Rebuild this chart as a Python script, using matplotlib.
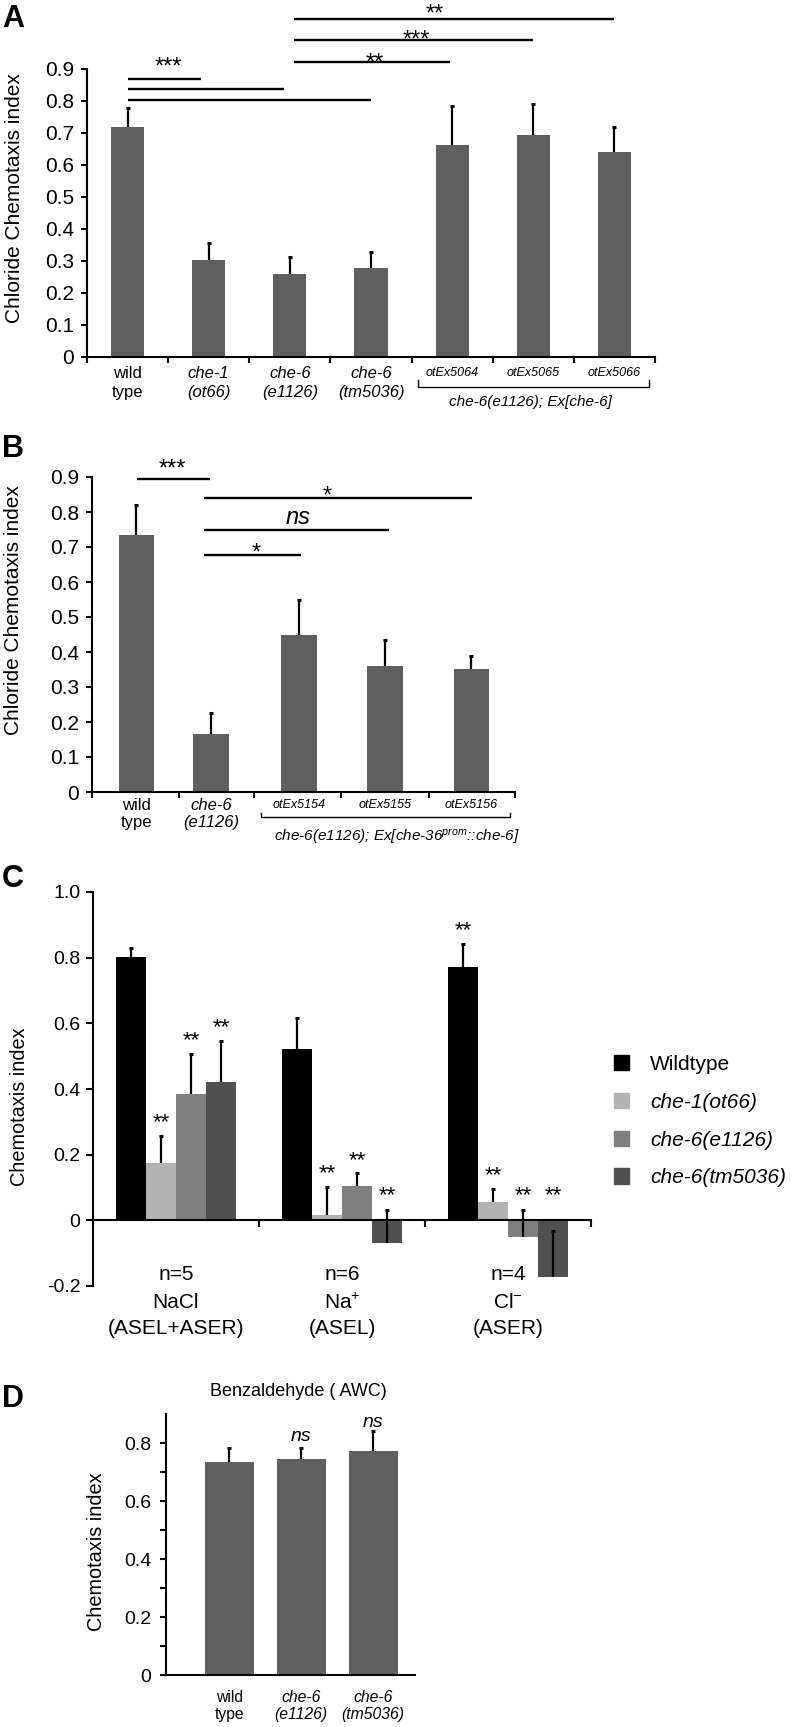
import matplotlib
matplotlib.use("Agg")
import matplotlib.pyplot as plt
import matplotlib.transforms as mtrans
from matplotlib.patches import Patch
import numpy as np

plt.rcParams['font.family'] = ['Liberation Sans', 'DejaVu Sans']
plt.rcParams['mathtext.fontset'] = 'custom'
plt.rcParams['mathtext.rm'] = 'Liberation Sans'
plt.rcParams['mathtext.it'] = 'Liberation Sans:italic'
plt.rcParams['axes.linewidth'] = 1.5

# ---------------- data ----------------
# panel A
a_labels = ['wild\ntype', 'che-1\n(ot66)', 'che-6\n(e1126)', 'che-6\n(tm5036)',
            'otEx5064', 'otEx5065', 'otEx5066']
a_means = [0.72, 0.303, 0.26, 0.278, 0.663, 0.693, 0.641]
a_err = [0.057, 0.054, 0.053, 0.049, 0.122, 0.097, 0.079]
# significance bars: (start, end, height)
a_sig = [(0, 0.91, 0.869), (0, 1.93, 0.838), (0, 3.0, 0.803),
         (2.05, 3.97, 0.921), (2.05, 5.0, 0.99), (2.05, 6.0, 1.056)]
a_sig_text = [(0.5, 0.928, '***'), (3.05, 0.94, '**'), (3.56, 1.011, '***'), (3.79, 1.093, '**')]

# panel B
b_labels = ['wild\ntype', 'che-6\n(e1126)', 'otEx5154', 'otEx5155', 'otEx5156']
b_means = [0.734, 0.166, 0.45, 0.36, 0.351]
b_err = [0.085, 0.06, 0.099, 0.075, 0.038]
b_sig = [(0.01, 0.84, 0.893), (0.775, 3.86, 0.840), (0.775, 2.90, 0.748), (0.775, 1.89, 0.678)]
b_sig_text = [(0.41, 0.943, '***'), (2.19, 0.865, '*'), (1.86, 0.784, 'ns'), (1.38, 0.703, '*')]

# panel C
c_groups = [('n=5', 'NaCl', '(ASEL+ASER)'), ('n=6', 'Na$^{+}$', '(ASEL)'), ('n=4', 'Cl$^{-}$', '(ASER)')]
c_series = ['Wildtype', 'che-1(ot66)', 'che-6(e1126)', 'che-6(tm5036)']
c_means = [[0.801, 0.521, 0.772],
           [0.175, 0.016, 0.057],
           [0.384, 0.104, -0.05],
           [0.42, -0.07, -0.172]]
c_err = [[0.027, 0.094, 0.07],
         [0.081, 0.086, 0.038],
         [0.124, 0.039, 0.08],
         [0.126, 0.102, 0.138]]
c_stars = [[False, False, True],
           [True, True, True],
           [True, True, True],
           [True, True, True]]
c_colors = ['#000000', '#b3b3b3', '#808080', '#505050']

# panel D
d_labels = ['wild\ntype', 'che-6\n(e1126)', 'che-6\n(tm5036)']
d_means = [0.733, 0.744, 0.772]
d_err = [0.051, 0.04, 0.068]
d_sig_text = [(1, 0.825, 'ns'), (2, 0.874, 'ns')]

BAR = '#5f5f5f'
W, H = 793, 1727
fig = plt.figure(figsize=(W / 100, H / 100), dpi=100)


def axes_px(left, right, top, bottom):
    return fig.add_axes([left / W, 1 - bottom / H, (right - left) / W, (bottom - top) / H])


def off(ax, dx=0, dy=0):
    return mtrans.offset_copy(ax.transData, fig=fig, x=dx, y=dy, units='dots')


def xpix(ax):
    return mtrans.blended_transform_factory(ax.transData, mtrans.IdentityTransform())


def Y(top_px):
    return H - top_px


def up_errorbars(ax, x, m, e):
    _, caps, _ = ax.errorbar(x, m, yerr=[np.zeros(len(e)), e], fmt='none', ecolor='k',
                             elinewidth=1.6, capsize=1.6, capthick=2.2, zorder=3)
    caps[0].set_visible(False)


def sig_text(ax, x, y, s, size=17):
    em = size * 100 / 72
    shift = 0.57 * em if '*' in s else 0.26 * em
    style = 'italic' if s == 'ns' else 'normal'
    ax.text(x, y, s, transform=off(ax, 0, -shift), ha='center', va='baseline',
            fontsize=size, style=style, clip_on=False)


def base_style(ax):
    for side in ['top', 'right']:
        ax.spines[side].set_visible(False)
    ax.tick_params(axis='y', direction='out', length=4.5, width=1.5, labelsize=15, pad=5)
    ax.tick_params(axis='x', direction='out', length=4.5, width=1.5, labelbottom=False)


def xlabels(ax, xs, labels, y1, y2, size=12, small=9):
    tr = xpix(ax)
    for x, lab in zip(xs, labels):
        lines = lab.split('\n')
        st = 'italic' if (lab.startswith('che') or lab.startswith('otEx')) else 'normal'
        if len(lines) == 1:
            ax.text(x, Y(y1), lines[0], transform=tr, ha='center', va='center',
                    fontsize=small, style=st, clip_on=False)
        else:
            ax.text(x, Y(y1), lines[0], transform=tr, ha='center', va='center',
                    fontsize=size, style=st, clip_on=False)
            ax.text(x, Y(y2), lines[1], transform=tr, ha='center', va='center',
                    fontsize=size, style=st, clip_on=False)


def bracket(ax, x0, x1, y_line, y_end, label, x_lab, y_lab):
    tr = xpix(ax)
    ax.plot([x0, x0, x1, x1], [Y(y_end), Y(y_line), Y(y_line), Y(y_end)], color='k',
            lw=1.0, transform=tr, clip_on=False)
    ax.text(x_lab, Y(y_lab), label, transform=tr, ha='center', va='center',
            fontsize=11, style='italic', clip_on=False)


# ---------------- panel A ----------------
axA = axes_px(87, 655, 69, 357)
xa = np.arange(len(a_means))
axA.bar(xa, a_means, width=0.41, color=BAR, zorder=2)
up_errorbars(axA, xa, a_means, a_err)
axA.set_xlim(-0.5, 6.5)
axA.set_ylim(0, 0.9)
base_style(axA)
axA.set_xticks(np.arange(-0.5, 7, 1))
axA.set_yticks(np.arange(0, 0.95, 0.1))
axA.set_yticklabels(['0'] + ['%.1f' % v for v in np.arange(0.1, 0.95, 0.1)])
for x0, x1, y in a_sig:
    axA.plot([x0, x1], [y, y], color='k', lw=1.7, clip_on=False, solid_capstyle='butt')
for x, y, s in a_sig_text:
    sig_text(axA, x, y, s)
xlabels(axA, xa, a_labels, 373, 392)
bracket(axA, 3.58, 6.43, 387, 380, 'che-6(e1126); Ex[che-6]', 4.97, 402)
fig.text(15 / W, 1 - 198 / H, 'Chloride Chemotaxis index', rotation=90, ha='center',
         va='center', fontsize=15)
fig.text(2 / W, 1 - 27 / H, 'A', fontsize=22, fontweight='bold', va='baseline')

# ---------------- panel B ----------------
axB = axes_px(92, 515, 477, 792)
b_pos = [0, 0.855, 1.866, 2.855, 3.85]
axB.bar(b_pos, b_means, width=0.41, color=BAR, zorder=2)
up_errorbars(axB, b_pos, b_means, b_err)
axB.set_xlim(-0.51, 4.35)
axB.set_ylim(0, 0.9)
base_style(axB)
axB.set_xticks([-0.51, 0.49, 1.35, 2.35, 3.36, 4.35])
axB.set_yticks(np.arange(0, 0.95, 0.1))
axB.set_yticklabels(['0'] + ['%.1f' % v for v in np.arange(0.1, 0.95, 0.1)])
for x0, x1, y in b_sig:
    axB.plot([x0, x1], [y, y], color='k', lw=1.7, clip_on=False, solid_capstyle='butt')
for x, y, s in b_sig_text:
    sig_text(axB, x, y, s)
xlabels(axB, b_pos, b_labels, 805, 823)
bracket(axB, 1.43, 4.29, 817, 813, 'che-6(e1126); Ex[che-36$^{prom}$::che-6]', 2.99, 837)
fig.text(14 / W, 1 - 610 / H, 'Chloride Chemotaxis index', rotation=90, ha='center',
         va='center', fontsize=15)
fig.text(2 / W, 1 - 457 / H, 'B', fontsize=22, fontweight='bold', va='baseline')

# ---------------- panel C ----------------
axC = axes_px(93, 591, 892, 1286)
xc = np.arange(len(c_groups))
bw = 0.181
for i, (name, m, e, col) in enumerate(zip(c_series, c_means, c_err, c_colors)):
    xs = xc + (i - 1.5) * bw
    axC.bar(xs, m, width=bw, color=col, label=name, zorder=2)
    up_errorbars(axC, xs, m, e)
    for j in range(len(xc)):
        if c_stars[i][j]:
            top = max(m[j] + e[j], 0.035)
            sig_text(axC, xs[j], top + 0.062, '**', size=16)
axC.set_xlim(-0.5, 2.5)
axC.set_ylim(-0.2, 1.0)
for side in ['top', 'right']:
    axC.spines[side].set_visible(False)
axC.spines['bottom'].set_position(('data', 0))
axC.tick_params(axis='y', direction='out', length=5, width=1.5, labelsize=14, pad=4)
axC.tick_params(axis='x', direction='out', length=5, width=1.5, labelbottom=False)
axC.set_xticks([0.5, 1.5, 2.5])
axC.set_yticks([-0.2, 0, 0.2, 0.4, 0.6, 0.8, 1.0])
axC.set_yticklabels(['-0.2', '0', '0.2', '0.4', '0.6', '0.8', '1.0'])
trC = xpix(axC)
for j, lines in enumerate(c_groups):
    for txt, ypx in zip(lines, [1275, 1303, 1328]):
        axC.text(xc[j], Y(ypx), txt, transform=trC, ha='center', va='center',
                 fontsize=15, clip_on=False)
handles = [Patch(color=c) for c in c_colors]
leg = fig.legend(handles, c_series, loc='upper left', bbox_to_anchor=(614 / W, 1 - 1055 / H),
                 frameon=False, fontsize=15, handlelength=0.72, handleheight=0.75,
                 handletextpad=1.0, labelspacing=0.9, borderpad=0, borderaxespad=0)
for t in leg.get_texts()[1:]:
    t.set_style('italic')
fig.text(20 / W, 1 - 1107 / H, 'Chemotaxis index', rotation=90, ha='center', va='center',
         fontsize=14.3)
fig.text(2 / W, 1 - 887 / H, 'C', fontsize=22, fontweight='bold', va='baseline')

# ---------------- panel D ----------------
axD = axes_px(166, 415, 1414, 1675)
xd = np.arange(len(d_means))
axD.bar(xd, d_means, width=0.68, color=BAR, zorder=2)
up_errorbars(axD, xd, d_means, d_err)
axD.set_xlim(-0.88, 2.58)
axD.set_ylim(0, 0.9)
for side in ['top', 'right']:
    axD.spines[side].set_visible(False)
axD.set_xticks([])
axD.set_yticks([0, 0.2, 0.4, 0.6, 0.8])
axD.set_yticklabels(['0', '0.2', '0.4', '0.6', '0.8'])
axD.set_yticks([0.1, 0.3, 0.5, 0.7], minor=True)
axD.tick_params(axis='y', which='both', direction='out', length=4.5, width=1.5,
                labelsize=14, pad=6)
for x, y, s in d_sig_text:
    sig_text(axD, x, y, s, size=14)
xlabels(axD, xd, d_labels, 1697, 1715, size=11.3)
fig.text(298 / W, 1 - 1392 / H, 'Benzaldehyde ( AWC)', ha='center', va='center', fontsize=13)
fig.text(97 / W, 1 - 1552 / H, 'Chemotaxis index', rotation=90, ha='center', va='center',
         fontsize=14.3)
fig.text(2 / W, 1 - 1407 / H, 'D', fontsize=22, fontweight='bold', va='baseline')

fig.savefig('out.png', dpi=100)
